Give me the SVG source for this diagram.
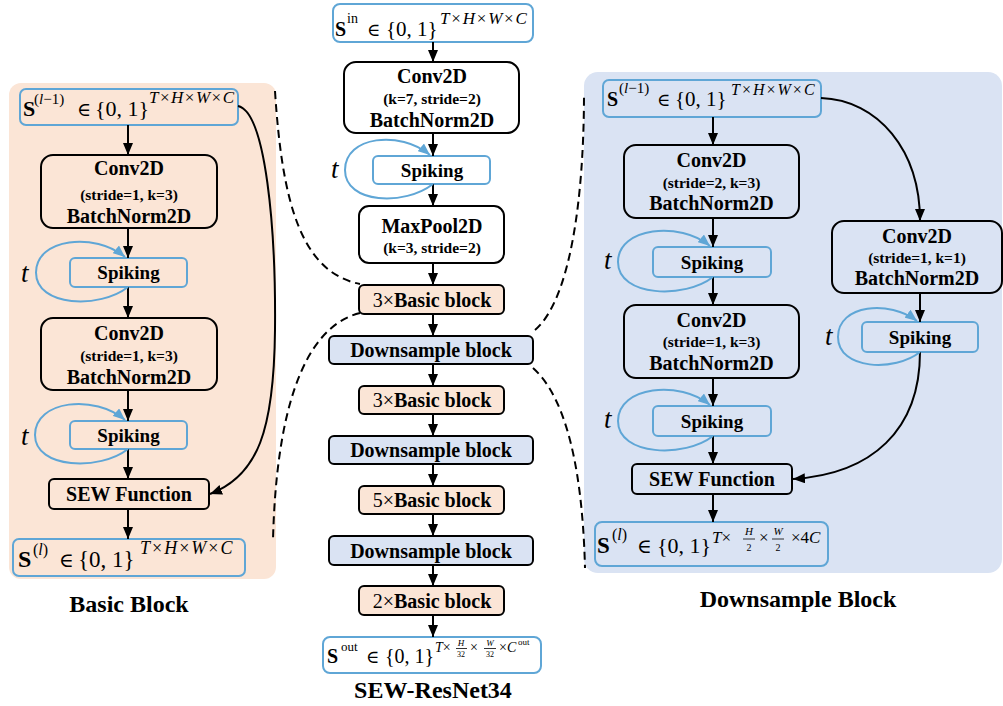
<svg xmlns="http://www.w3.org/2000/svg" width="1003" height="706" viewBox="0 0 1003 706">
  <style>
    .box { fill: none; stroke: #000; stroke-width: 2; }
    .wbox { fill: #fff; stroke: #000; stroke-width: 2; }
    .bbox { fill: #fbe5d6; stroke: #000; stroke-width: 2; }
    .dbox { fill: #dae3f3; stroke: #000; stroke-width: 2; }
    .io { fill: none; stroke: #5fa6d6; stroke-width: 2; }
    .iow { fill: #fff; stroke: #5fa6d6; stroke-width: 2; }
    .lbl { font-family: "Liberation Serif", "Times New Roman", serif; font-weight: bold; text-anchor: middle; fill: #000; }
    .big { font-size: 20px; }
    .sml { font-size: 15.5px; }
    .spk { font-size: 19px; }
    .ttl { font-size: 24px; }
    .math { font-family: "Liberation Serif", "DejaVu Serif", serif; fill: #000; }
    .it { font-style: italic; }
    .bf { font-weight: bold; }
    .tvar { font-family: "Liberation Serif", "DejaVu Serif", serif; font-style: italic; font-size: 27px; fill: #000; }
    .arrow { fill: none; stroke: #000; stroke-width: 2; marker-end: url(#ah); }
    .loop { fill: none; stroke: #5fa6d6; stroke-width: 2; marker-end: url(#ahb); }
    .dash { fill: none; stroke: #000; stroke-width: 2; stroke-dasharray: 8 5; }
    .frac { stroke: #000; stroke-width: 0.8; }
  </style>
  <defs>
    <marker id="ah" viewBox="0 0 12 10" refX="12" refY="5" markerWidth="12" markerHeight="10" markerUnits="userSpaceOnUse" orient="auto">
      <path d="M0,0 L12,5 L0,10 z" fill="#000"/>
    </marker>
    <marker id="ahb" viewBox="0 0 12 10" refX="12" refY="5" markerWidth="12" markerHeight="10" markerUnits="userSpaceOnUse" orient="auto">
      <path d="M0,0 L12,5 L0,10 z" fill="#5fa6d6"/>
    </marker>
  </defs>

  <!-- panel backgrounds -->
  <g id="panels">
    <rect x="9" y="83" width="267" height="496" rx="12" fill="#fbe5d6"/>
    <rect x="584" y="72" width="418" height="501" rx="14" fill="#dae3f3"/>
  </g>

  <!-- ===== Basic block panel ===== -->
  <g id="bb-in">
    <rect class="io" x="20" y="89" width="218" height="36" rx="6"/>
    <text class="math"><tspan class="bf" x="23" y="116" font-size="22">S</tspan><tspan x="34" y="104" font-size="15">(<tspan class="it">l</tspan>−1)</tspan><tspan x="77" y="116" font-size="19">∈</tspan><tspan x="95" y="116" font-size="22">{0, 1}</tspan><tspan x="149" y="103" font-size="17" letter-spacing="1.5"><tspan class="it">T</tspan>×<tspan class="it">H</tspan>×<tspan class="it">W</tspan>×<tspan class="it">C</tspan></tspan></text>
  </g>
  <g id="bb-conv1">
    <rect class="box" x="41" y="155" width="176" height="73" rx="12"/>
    <text class="lbl big" x="129" y="175">Conv2D</text>
    <text class="lbl sml" x="129" y="200">(stride=1, k=3)</text>
    <text class="lbl big" x="129" y="223">BatchNorm2D</text>
  </g>
  <g id="bb-spk1">
    <rect class="io" x="70" y="258" width="117" height="29" rx="5"/>
    <text class="lbl spk" x="128.5" y="279">Spiking</text>
  </g>
  <g id="bb-conv2">
    <rect class="box" x="41" y="318" width="176" height="72" rx="12"/>
    <text class="lbl big" x="129" y="340">Conv2D</text>
    <text class="lbl sml" x="129" y="361">(stride=1, k=3)</text>
    <text class="lbl big" x="129" y="384">BatchNorm2D</text>
  </g>
  <g id="bb-spk2">
    <rect class="io" x="70" y="421" width="117" height="28" rx="5"/>
    <text class="lbl spk" x="128.5" y="442">Spiking</text>
  </g>
  <g id="bb-sew">
    <rect class="box" x="49" y="479" width="160" height="30" rx="5"/>
    <text class="lbl big" x="129" y="501">SEW Function</text>
  </g>
  <g id="bb-out">
    <rect class="io" x="13" y="539" width="232" height="37" rx="6"/>
    <text class="math"><tspan class="bf" x="18" y="567" font-size="24">S</tspan><tspan x="33" y="555" font-size="16">(<tspan class="it">l</tspan>)</tspan><tspan x="59" y="567" font-size="20">∈</tspan><tspan x="78" y="567" font-size="23">{0, 1}</tspan><tspan x="140" y="554" font-size="18" letter-spacing="2"><tspan class="it">T</tspan>×<tspan class="it">H</tspan>×<tspan class="it">W</tspan>×<tspan class="it">C</tspan></tspan></text>
  </g>
  <text class="lbl ttl" x="129" y="612">Basic Block</text>

  <!-- ===== SEW-ResNet34 column ===== -->
  <g id="net-in">
    <rect class="iow" x="333" y="4" width="200" height="38" rx="7"/>
    <text class="math"><tspan class="bf" x="335" y="36" font-size="20">S</tspan><tspan x="347" y="23" font-size="14">in</tspan><tspan x="367" y="36" font-size="18">∈</tspan><tspan x="386" y="36" font-size="21">{0, 1}</tspan><tspan x="440" y="24" font-size="17" letter-spacing="1.8"><tspan class="it">T</tspan>×<tspan class="it">H</tspan>×<tspan class="it">W</tspan>×<tspan class="it">C</tspan></tspan></text>
  </g>
  <g id="net-conv">
    <rect class="wbox" x="344" y="62" width="175" height="71" rx="12"/>
    <text class="lbl big" x="432" y="83">Conv2D</text>
    <text class="lbl sml" x="432" y="104">(k=7, stride=2)</text>
    <text class="lbl big" x="432" y="127">BatchNorm2D</text>
  </g>
  <g id="net-spk">
    <rect class="iow" x="373" y="156" width="117" height="28" rx="5"/>
    <text class="lbl spk" x="432" y="177">Spiking</text>
  </g>
  <g id="net-pool">
    <rect class="wbox" x="359" y="206" width="145" height="57" rx="10"/>
    <text class="lbl big" x="432" y="233">MaxPool2D</text>
    <text class="lbl sml" x="432" y="253">(k=3, stride=2)</text>
  </g>
  <g id="net-b1">
    <rect class="bbox" x="359" y="285" width="145" height="29" rx="5"/>
    <text class="lbl big" x="432" y="307"><tspan font-weight="normal">3×</tspan>Basic block</text>
  </g>
  <g id="net-d1">
    <rect class="dbox" x="329" y="336" width="204" height="28" rx="5"/>
    <text class="lbl big" x="431" y="357">Downsample block</text>
  </g>
  <g id="net-b2">
    <rect class="bbox" x="359" y="386" width="145" height="28" rx="5"/>
    <text class="lbl big" x="432" y="407"><tspan font-weight="normal">3×</tspan>Basic block</text>
  </g>
  <g id="net-d2">
    <rect class="dbox" x="329" y="436" width="204" height="28" rx="5"/>
    <text class="lbl big" x="431" y="457">Downsample block</text>
  </g>
  <g id="net-b3">
    <rect class="bbox" x="359" y="486" width="145" height="28" rx="5"/>
    <text class="lbl big" x="432" y="507"><tspan font-weight="normal">5×</tspan>Basic block</text>
  </g>
  <g id="net-d3">
    <rect class="dbox" x="329" y="536" width="204" height="29" rx="5"/>
    <text class="lbl big" x="431" y="558">Downsample block</text>
  </g>
  <g id="net-b4">
    <rect class="bbox" x="359" y="586" width="145" height="29" rx="5"/>
    <text class="lbl big" x="432" y="608"><tspan font-weight="normal">2×</tspan>Basic block</text>
  </g>
  <g id="net-out">
    <rect class="iow" x="323" y="637" width="218" height="36" rx="7"/>
    <text class="math"><tspan class="bf" x="327" y="663" font-size="20">S</tspan><tspan x="341" y="651" font-size="13">out</tspan><tspan x="366" y="663" font-size="18">∈</tspan><tspan x="385" y="663" font-size="20">{0, 1}</tspan><tspan x="435" y="652" font-size="14"><tspan class="it">T</tspan>×</tspan><tspan x="461" y="646" font-size="9" text-anchor="middle" class="it">H</tspan><tspan x="461" y="657" font-size="8" text-anchor="middle">32</tspan><tspan x="470" y="652" font-size="14">×</tspan><tspan x="490" y="646" font-size="9" text-anchor="middle" class="it">W</tspan><tspan x="490" y="657" font-size="8" text-anchor="middle">32</tspan><tspan x="499" y="652" font-size="14">×<tspan class="it">C</tspan></tspan><tspan x="518" y="645" font-size="9">out</tspan></text>
    <line class="frac" x1="456" y1="648.5" x2="467" y2="648.5"/>
    <line class="frac" x1="484" y1="648.5" x2="496" y2="648.5"/>
  </g>
  <text class="lbl ttl" x="433" y="698">SEW-ResNet34</text>

  <!-- ===== Downsample block panel ===== -->
  <g id="ds-in">
    <rect class="io" x="603" y="80" width="218" height="37" rx="6"/>
    <text class="math"><tspan class="bf" x="607" y="106" font-size="20">S</tspan><tspan x="619" y="93" font-size="15">(<tspan class="it">l</tspan>−1)</tspan><tspan x="657" y="106" font-size="18">∈</tspan><tspan x="675" y="106" font-size="21">{0, 1}</tspan><tspan x="731" y="95" font-size="16" letter-spacing="2"><tspan class="it">T</tspan>×<tspan class="it">H</tspan>×<tspan class="it">W</tspan>×<tspan class="it">C</tspan></tspan></text>
  </g>
  <g id="ds-conv1">
    <rect class="box" x="624" y="145" width="175" height="73" rx="12"/>
    <text class="lbl big" x="711.5" y="167">Conv2D</text>
    <text class="lbl sml" x="711.5" y="188">(stride=2, k=3)</text>
    <text class="lbl big" x="711.5" y="210">BatchNorm2D</text>
  </g>
  <g id="ds-spk1">
    <rect class="io" x="653" y="247" width="118" height="30" rx="5"/>
    <text class="lbl spk" x="712" y="269">Spiking</text>
  </g>
  <g id="ds-conv2">
    <rect class="box" x="624" y="305" width="175" height="73" rx="12"/>
    <text class="lbl big" x="711.5" y="327">Conv2D</text>
    <text class="lbl sml" x="711.5" y="347">(stride=1, k=3)</text>
    <text class="lbl big" x="711.5" y="370">BatchNorm2D</text>
  </g>
  <g id="ds-spk2">
    <rect class="io" x="653" y="406" width="118" height="30" rx="5"/>
    <text class="lbl spk" x="712" y="428">Spiking</text>
  </g>
  <g id="ds-sew">
    <rect class="box" x="632" y="464" width="160" height="30" rx="5"/>
    <text class="lbl big" x="712" y="486">SEW Function</text>
  </g>
  <g id="ds-out">
    <rect class="io" x="595" y="522" width="233" height="44" rx="7"/>
    <text class="math"><tspan class="bf" x="597" y="553" font-size="23">S</tspan><tspan x="612" y="540" font-size="16">(<tspan class="it">l</tspan>)</tspan><tspan x="637" y="553" font-size="20">∈</tspan><tspan x="657" y="553" font-size="22">{0, 1}</tspan><tspan x="712" y="543" font-size="17"><tspan class="it">T</tspan>×</tspan><tspan x="749" y="535" font-size="11" text-anchor="middle" class="it">H</tspan><tspan x="749" y="551" font-size="10" text-anchor="middle">2</tspan><tspan x="759" y="543" font-size="17">×</tspan><tspan x="778" y="535" font-size="11" text-anchor="middle" class="it">W</tspan><tspan x="778" y="551" font-size="10" text-anchor="middle">2</tspan><tspan x="791" y="543" font-size="17">×4<tspan class="it">C</tspan></tspan></text>
    <line class="frac" x1="743" y1="539" x2="755" y2="539"/>
    <line class="frac" x1="772" y1="539" x2="784" y2="539"/>
  </g>
  <g id="ds-conv3">
    <rect class="box" x="832" y="221" width="170" height="72" rx="12"/>
    <text class="lbl big" x="917" y="243">Conv2D</text>
    <text class="lbl sml" x="917" y="263">(stride=1, k=1)</text>
    <text class="lbl big" x="917" y="285">BatchNorm2D</text>
  </g>
  <g id="ds-spk3">
    <rect class="io" x="862" y="322" width="116" height="30" rx="5"/>
    <text class="lbl spk" x="920" y="344">Spiking</text>
  </g>
  <text class="lbl ttl" x="798" y="607">Downsample Block</text>

  <!-- time-step labels beside the spiking loops -->
  <g id="time-labels">
    <text class="tvar" x="21" y="282">t</text>
    <text class="tvar" x="21" y="445">t</text>
    <text class="tvar" x="331" y="178">t</text>
    <text class="tvar" x="604" y="269">t</text>
    <text class="tvar" x="604" y="428">t</text>
    <text class="tvar" x="825" y="345">t</text>
  </g>

  <!-- connectors -->
  <g id="connectors">
    <!-- basic block main path -->
    <line class="arrow" x1="128" y1="125" x2="128" y2="155"/>
    <line class="arrow" x1="128" y1="228" x2="128" y2="258"/>
    <line class="arrow" x1="128" y1="287" x2="128" y2="318"/>
    <line class="arrow" x1="128" y1="390" x2="128" y2="421"/>
    <line class="arrow" x1="128" y1="449" x2="128" y2="479"/>
    <line class="arrow" x1="128" y1="509" x2="128" y2="539"/>
    <!-- basic block shortcut -->
    <path class="arrow" d="M238,106 C266,112 276,230 275,330 C274,430 258,476 210,494"/>

    <!-- network column -->
    <line class="arrow" x1="433" y1="42" x2="433" y2="62"/>
    <line class="arrow" x1="433" y1="133" x2="433" y2="156"/>
    <line class="arrow" x1="433" y1="184" x2="433" y2="206"/>
    <line class="arrow" x1="433" y1="263" x2="433" y2="285"/>
    <line class="arrow" x1="433" y1="314" x2="433" y2="336"/>
    <line class="arrow" x1="433" y1="364" x2="433" y2="386"/>
    <line class="arrow" x1="433" y1="414" x2="433" y2="436"/>
    <line class="arrow" x1="433" y1="464" x2="433" y2="486"/>
    <line class="arrow" x1="433" y1="514" x2="433" y2="536"/>
    <line class="arrow" x1="433" y1="565" x2="433" y2="586"/>
    <line class="arrow" x1="433" y1="615" x2="433" y2="637"/>

    <!-- downsample block main path -->
    <line class="arrow" x1="713" y1="117" x2="713" y2="145"/>
    <line class="arrow" x1="713" y1="218" x2="713" y2="247"/>
    <line class="arrow" x1="713" y1="277" x2="713" y2="305"/>
    <line class="arrow" x1="713" y1="378" x2="713" y2="406"/>
    <line class="arrow" x1="713" y1="436" x2="713" y2="464"/>
    <line class="arrow" x1="713" y1="494" x2="713" y2="522"/>
    <!-- downsample shortcut -->
    <path class="arrow" d="M821,98 C878,100 920,150 920,221"/>
    <line class="arrow" x1="920" y1="293" x2="920" y2="322"/>
    <path class="arrow" d="M920,352 C920,430 872,474 793,479"/>

    <!-- spiking recurrence loops -->
    <path class="loop" d="M128,287 C100,309 36,307 36,272.5 C36,238 95,232 125,257"/>
    <path class="loop" d="M128,449 C100,471 35,469 35,435 C35,400 95,394 125,420"/>
    <path class="loop" d="M433,184 C405,206 345,204 345,170 C345,136 400,130 430,155"/>
    <path class="loop" d="M713,277 C685,299 618,297 618,262 C618,227 680,221 710,246"/>
    <path class="loop" d="M713,436 C685,458 618,456 618,421 C618,386 680,380 710,405"/>
    <path class="loop" d="M920,352 C895,372 838,370 838,337 C838,304 890,300 917,321"/>

    <!-- expansion guides -->
    <path class="dash" d="M275,91 C282,200 300,272 360,284"/>
    <path class="dash" d="M360,313 C300,328 276,420 273,540"/>
    <path class="dash" d="M535,330 C570,300 584,200 584,93"/>
    <path class="dash" d="M533,368 C560,392 582,450 585,568"/>
  </g>
</svg>
